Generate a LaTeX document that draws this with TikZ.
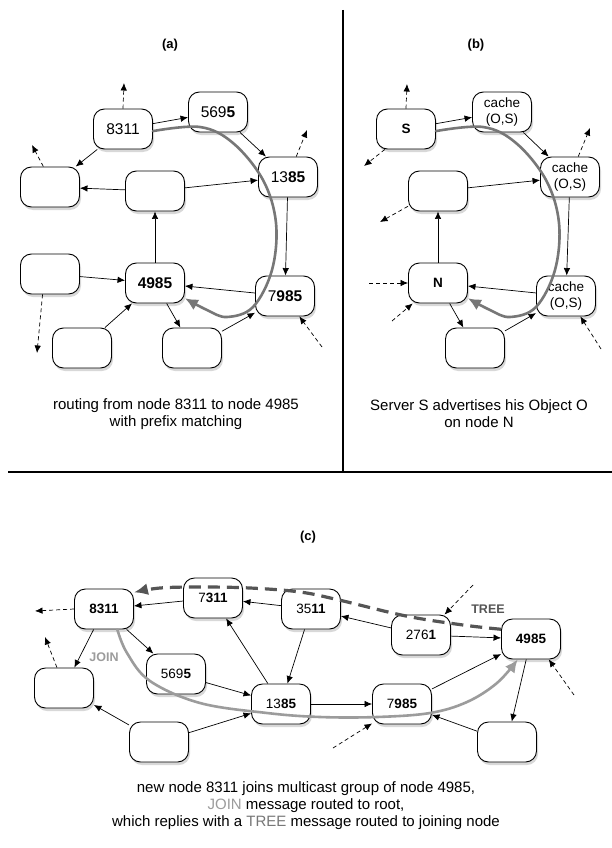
\documentclass[tikz,border=0pt]{standalone}
\usepackage{fontspec}
\setmainfont{Liberation Sans}
\usetikzlibrary{arrows.meta,shadows}
\definecolor{routegray}{HTML}{777777}
\definecolor{joingray}{HTML}{9C9C9C}
\definecolor{treegray}{HTML}{555555}
\begin{document}
\begin{tikzpicture}[x=1pt,y=-1pt,
  peer/.style={draw=black, line width=0.9pt, fill=white, rounded corners=11pt,
    minimum width=59pt, minimum height=40pt, inner sep=0pt, align=center,
    drop shadow={shadow xshift=1.5pt, shadow yshift=-3pt, opacity=0.3}},
  peera/.style={peer, font=\fontsize{15.5}{17}\selectfont},
  peerb/.style={peer, font=\fontsize{13.5}{16}\selectfont},
  peerc/.style={peer, font=\fontsize{13.5}{16}\selectfont},
  arr/.style={-{Latex[length=7.5pt,width=6.5pt]}, line width=0.7pt},
  darr/.style={arr, dash pattern=on 4pt off 3pt},
  route/.style={draw=routegray, line width=2.6pt, line cap=round,
    -{Latex[length=13pt,width=12pt]}},
  joinroute/.style={draw=joingray, line width=2.6pt, line cap=round,
    -{Latex[length=13pt,width=12pt]}},
  treeroute/.style={draw=treegray, line width=3.2pt, dash pattern=on 12pt off 7pt,
    -{Latex[length=14pt,width=12pt]}},
  caption/.style={font=\fontsize{15}{17}\selectfont, align=center},
  paneltitle/.style={font=\fontsize{13}{15}\selectfont\bfseries},
]
\useasboundingbox (0,0) rectangle (612,848);
\fill[white] (0,0) rectangle (612,848);

% dividers
\draw[line width=1.2pt] (343,10) -- (343,472);
\draw[line width=1.2pt] (8,472) -- (612,472);

% ---------------- panel (a)
\node[paneltitle] (ta) at (170,45) {(a)};
\node[peera] (a8311) at (123,129) {8311};
\node[peera] (a5695) at (218,112) {569\textbf{5}};
\node[peera] (a1385) at (288,177) {13\textbf{85}};
\node[peera] (aL1) at (50,187) {};
\node[peera] (aM) at (155,191) {};
\node[peera] (aL2) at (50,274) {};
\node[peera] (a4985) at (155,283) {\textbf{4985}};
\node[peera] (a7985) at (285,296) {7\textbf{985}};
\node[peera] (aB1) at (82,348) {};
\node[peera] (aB2) at (192,348) {};

\draw[arr] (a8311) -- (a5695);
\draw[arr] (a8311) -- (aL1);
\draw[arr] (aM) -- (aL1);
\draw[arr] (aM) -- (a1385);
\draw[arr] (a5695) -- (a1385);
\draw[arr] (a1385) -- (a7985);
\draw[arr] (a7985) -- (a4985);
\draw[arr] (a4985) -- (aM);
\draw[arr] (aL2) -- (a4985);
\draw[arr] (aB1) -- (a4985);
\draw[arr] (a4985) -- (aB2);
\draw[arr] (aB2) -- (a7985);

\coordinate (ad1) at (124,83);
\coordinate (ad2) at (32,145);
\coordinate (ad3) at (307,130);
\coordinate (ad4) at (37,353);
\coordinate (ad5) at (322,347);
\draw[darr] (a8311.north) -- (ad1);
\draw[darr] (aL1.108) -- (ad2);
\draw[darr] (a1385.68) -- (ad3);
\draw[darr] (aL2.250) -- (ad4);
\draw[darr] (ad5) -- (a7985.-55);

\draw[route] plot[smooth, tension=0.6] coordinates {(a8311.-4) (200,127) (233,143) (263,180) (276,223) (272,270) (253,307) (227,317) (207,310) (a4985.-27)};

\node[caption] (capa) at (176,414) {routing from node 8311 to node 4985\\with prefix matching};

% ---------------- panel (b)
\node[paneltitle] (tb) at (476,45) {(b)};
\node[peerb] (bS) at (406,129) {\textbf{S}};
\node[peerb] (bC1) at (502,112) {cache\\(O,S)};
\node[peerb] (bC2) at (570,177) {cache\\(O,S)};
\node[peerb] (bM) at (438,191) {};
\node[peerb] (bN) at (438,283) {\textbf{N}};
\node[peerb] (bC3) at (566,296) {cache\\(O,S)};
\node[peerb] (bB) at (475,348) {};

\draw[arr] (bS) -- (bC1);
\draw[arr] (bC1) -- (bC2);
\draw[arr] (bM) -- (bC2);
\draw[arr] (bN) -- (bM);
\draw[arr] (bC2) -- (bC3);
\draw[arr] (bC3) -- (bN);
\draw[arr] (bN) -- (bB);
\draw[arr] (bB) -- (bC3);

\coordinate (bd1) at (407,84);
\coordinate (bd2) at (364,166);
\coordinate (bd3) at (590,128);
\coordinate (bd4) at (380,222);
\coordinate (bd5) at (369,283);
\coordinate (bd6) at (392,321);
\coordinate (bd7) at (601,349);
\draw[darr] (bS.north) -- (bd1);
\draw[darr] (bS.224) -- (bd2);
\draw[darr] (bC2.68) -- (bd3);
\draw[darr] (bM.207) -- (bd4);
\draw[darr] (bd5) -- (bN.west);
\draw[darr] (bd6) -- (bN.219);
\draw[darr] (bd7) -- (bC3.-55);

\draw[route] plot[smooth, tension=0.6] coordinates {(bS.-4) (483,127) (516,143) (546,180) (559,223) (555,270) (536,307) (510,317) (490,310) (bN.-27)};

\node[caption] (capb) at (479,414) {Server S advertises his Object O\\on node N};

% ---------------- panel (c)
\node[paneltitle] (tc) at (308,537) {(c)};
\node[peerc] (c8311) at (104,609) {\textbf{8311}};
\node[peerc] (c7311) at (213,598) {7\textbf{311}};
\node[peerc] (c3511) at (311,609) {35\textbf{11}};
\node[peerc] (c2761) at (421,635) {276\textbf{1}};
\node[peerc] (c4985) at (531,639) {\textbf{4985}};
\node[peerc] (c5695) at (176,674) {569\textbf{5}};
\node[peerc] (c1385) at (281,704) {13\textbf{85}};
\node[peerc] (c7985) at (402,704) {7\textbf{985}};
\node[peerc] (cL) at (64,688) {};
\node[peerc] (cBL) at (159,742) {};
\node[peerc] (cBR) at (507,742) {};

\draw[arr] (c8311) -- (cL);
\draw[arr] (c8311) -- (c5695);
\draw[arr] (c7311) -- (c8311);
\draw[arr] (c3511) -- (c7311);
\draw[arr] (c1385) -- (c7311);
\draw[arr] (c3511) -- (c1385);
\draw[arr] (c5695) -- (c1385);
\draw[arr] (cBL) -- (cL);
\draw[arr] (cBL) -- (c1385);
\draw[arr] (c1385) -- (c7985);
\draw[arr] (c2761) -- (c3511);
\draw[arr] (c2761) -- (c4985);
\draw[arr] (c7985) -- (c4985);
\draw[arr] (c4985) -- (cBR);
\draw[arr] (cBR) -- (c7985);

\coordinate (cd1) at (35,611);
\coordinate (cd2) at (45,637);
\coordinate (cd3) at (333,748);
\coordinate (cd4) at (473,585);
\coordinate (cd5) at (574,695);
\draw[darr] (c8311.west) -- (cd1);
\draw[darr] (cL.109) -- (cd2);
\draw[darr] (cd3) -- (c7985.213);
\draw[darr] (cd4) -- (c2761.41);
\draw[darr] (cd5) -- (c4985.-49);

\draw[joinroute] plot[smooth, tension=0.6] coordinates {(c8311.-57) (127,653) (150,681) (200,703) (267,713) (320,717) (377,717) (430,713) (467,702) (497,683) (c4985.237)};
\draw[treeroute] plot[smooth, tension=0.6] coordinates {(c4985.162) (463,625) (406,616) (339,600) (300,592) (250,588) (200,587) (160,588) (c8311.29)};

\node[font=\fontsize{12.5}{14}\selectfont\bfseries, text=treegray] (ltree) at (488,609) {TREE};
\node[font=\fontsize{12.5}{14}\selectfont\bfseries, text=joingray] (ljoin) at (104,657) {JOIN};

\node[caption] (capc) at (306,806) {new node 8311 joins multicast group of node 4985,\\\textcolor{joingray}{JOIN} message routed to root,\\which replies with a \textcolor{routegray}{TREE} message routed to joining node};
\end{tikzpicture}
\end{document}
